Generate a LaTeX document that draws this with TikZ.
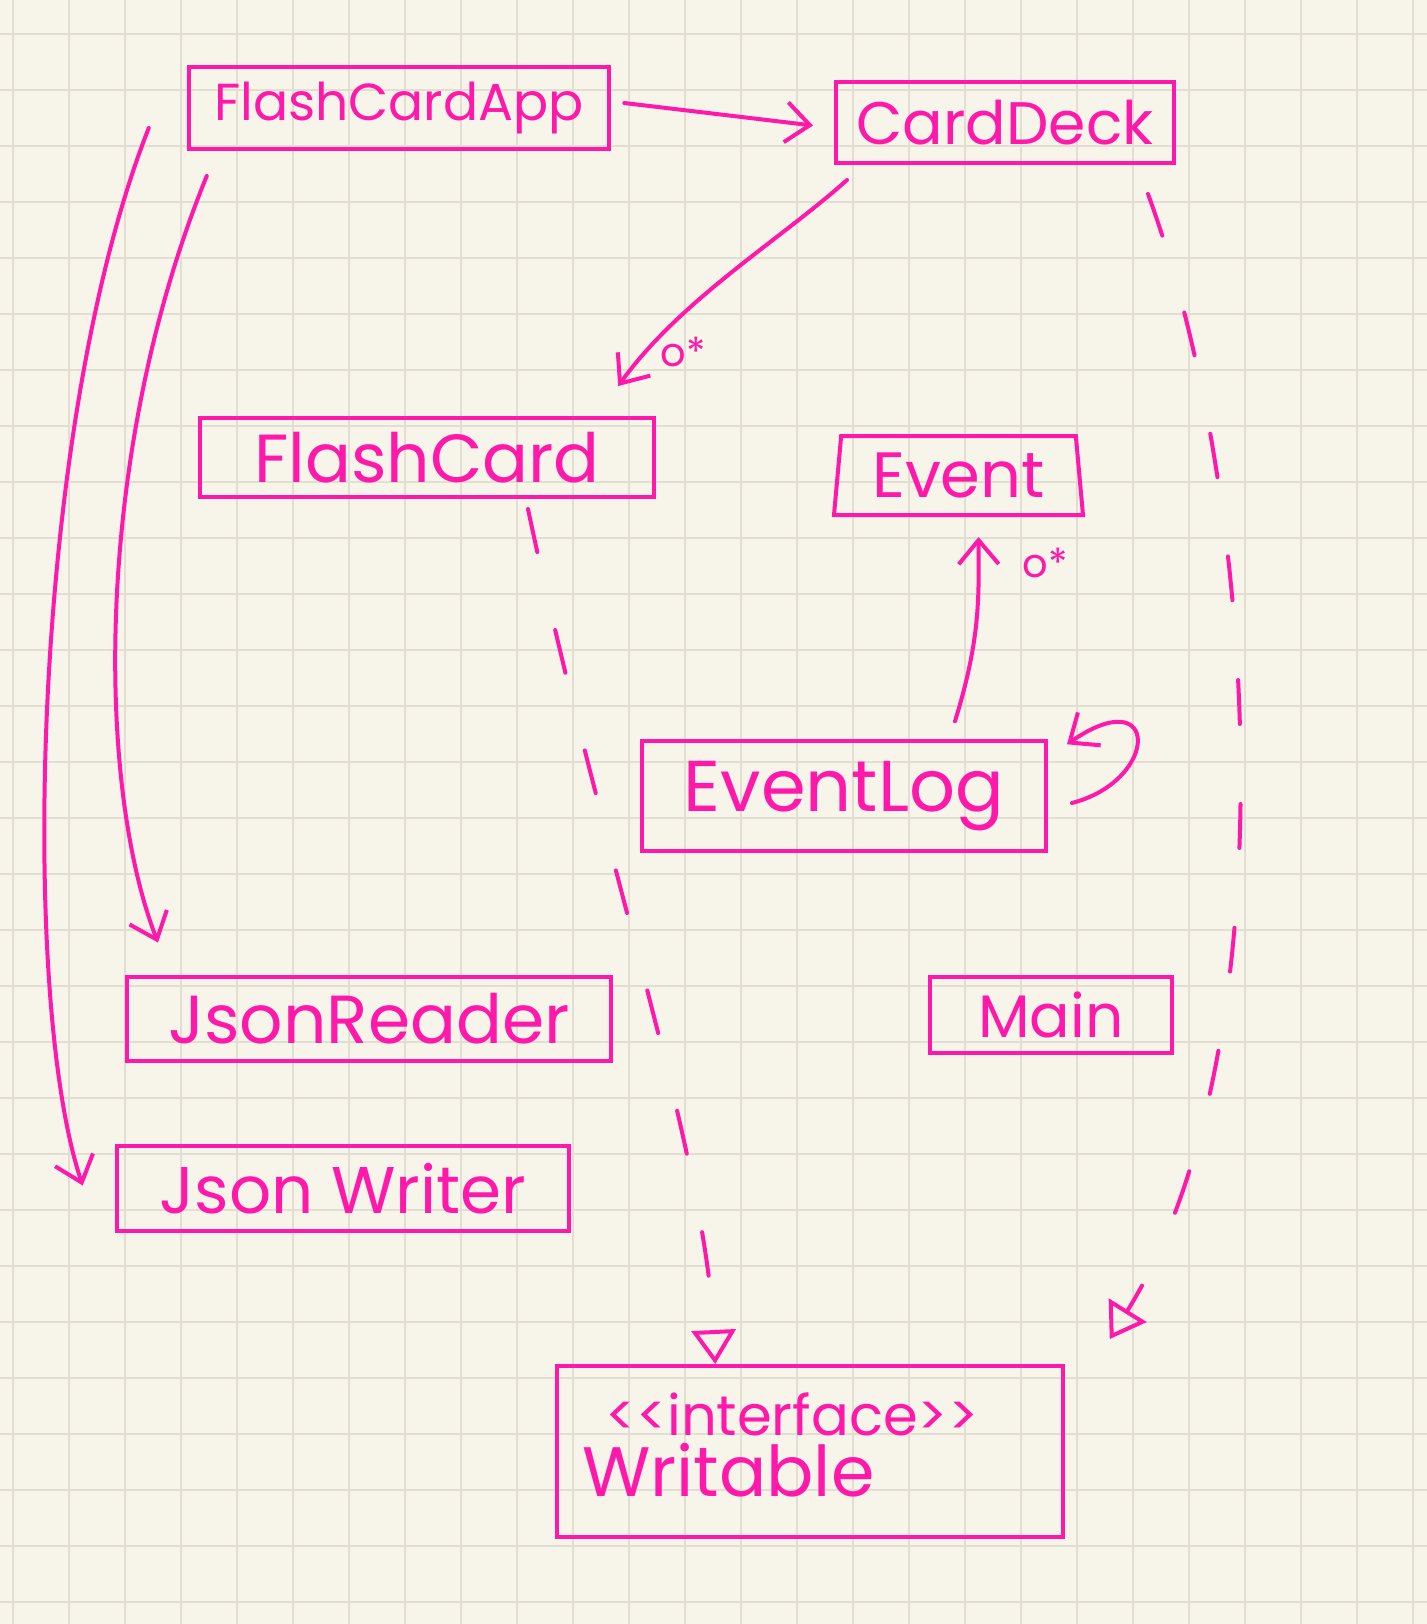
\documentclass[tikz,border=0pt]{standalone}
\usepackage{fontspec}
\setmainfont{Poppins}
\usepackage{xcolor}
\usepackage{tikz}
\usetikzlibrary{shapes.geometric,arrows.meta,calc}

\definecolor{pen}{HTML}{FF19AB}
\definecolor{paper}{HTML}{F7F4E9}
\definecolor{gridc}{HTML}{E2DFD2}

\begin{document}
\begin{tikzpicture}[x=0.5pt, y=-0.5pt,
    classbox/.style={rectangle, draw=pen, line width=2pt, text=pen, inner sep=0pt, font=\fontsize{#1}{#1}\selectfont},
    gridline/.style={gridc, line width=1pt},
    handarrow/.style={pen, line width=2pt, line cap=round, -{Straight Barb[length=12pt, width=20pt]}},
    realize/.style={pen, line width=2pt, line cap=round, dash pattern=on 22pt off 40pt, -{Triangle[open, length=17pt, width=22pt]}},
    mult/.style={text=pen, font=\fontsize{20}{20}\selectfont}
]

% Paper and grid
\fill[paper] (0,0) rectangle (1427,1624);
\useasboundingbox (0,0) rectangle (1427,1624);
\foreach \gx in {13,69,...,1413}
    \draw[gridline] (\gx,0) -- (\gx,1624);
\foreach \gy in {34,90,...,1602}
    \draw[gridline] (0,\gy) -- (1427,\gy);

% Classes
\node[classbox=26, minimum width=210.25pt, minimum height=41pt] (app) at (399,108) {FlashCardApp};
\node[classbox=30, minimum width=169pt, minimum height=40.5pt] (deck) at (1005,122.5) {CardDeck};
\node[classbox=34, minimum width=227.25pt, minimum height=39.5pt] (card) at (427,457.5) {FlashCard};
\node[trapezium, draw=pen, line width=2pt, text=pen, inner sep=0pt, font=\fontsize{32}{32}\selectfont,
      trapezium left angle=81, trapezium right angle=81, trapezium stretches body,
      minimum width=124.5pt, minimum height=39.5pt] (event) at (958.5,475.5) {Event};
\node[classbox=36, minimum width=202pt, minimum height=54.75pt] (log) at (844,796) {EventLog};
\node[classbox=34, minimum width=242pt, minimum height=42pt] (reader) at (369,1018.5) {JsonReader};
\node[classbox=30, minimum width=121pt, minimum height=38.25pt] (main) at (1051,1015) {Main};
\node[classbox=33, minimum width=226.25pt, minimum height=42.5pt] (writer) at (343,1188.5) {Json Writer};

% Interface
\node[classbox=10, minimum width=252.75pt, minimum height=85.5pt] (writable) at (810,1451.5) {};
\node[text=pen, font=\fontsize{28}{28}\selectfont, anchor=west] (iface) at (598,1414) {<{}<interface>{}>};
\node[text=pen, font=\fontsize{35}{35}\selectfont, anchor=west] (wname) at (575,1470) {Writable};

% Associations
\draw[handarrow] ($(app.east)+(13,-5)$) -- ($(deck.west)+(-21,3)$);
\draw[handarrow] ($(deck.south west)+(13,15)$) .. controls (780,240) and (680,300) .. ($(card.north east)+(-38,-30)$);
\node[mult] (m1) at (683,352) {o*};
\draw[handarrow] ($(app.south west)+(20,25)$) .. controls (95,450) and (95,780) .. ($(reader.north west)+(33,-32)$);
\draw[handarrow] ($(app.west)+(-38,20)$) .. controls (30,430) and (20,1000) .. ($(writer.west)+(-32,-3)$);
\draw[handarrow] ($(log.north)+(111,-18)$) .. controls (980,640) and (979,600) .. ($(event.south)+(20,20)$);
\node[mult] (m2) at (1045,563) {o*};
\draw[handarrow] ($(log.east)+(24,7)$) .. controls (1160,780) and (1160,680) .. ($(log.north east)+(19,5)$);

% Realizations
\draw[realize] ($(card.south)+(101,10)$) .. controls (600,850) and (705,1150) .. ($(writable.north west)+(160,0)$);
\draw[realize] ($(deck.south east)+(-28,29)$) .. controls (1260,500) and (1290,1050) .. ($(writable.north east)+(45,-25)$);

\end{tikzpicture}
\end{document}
